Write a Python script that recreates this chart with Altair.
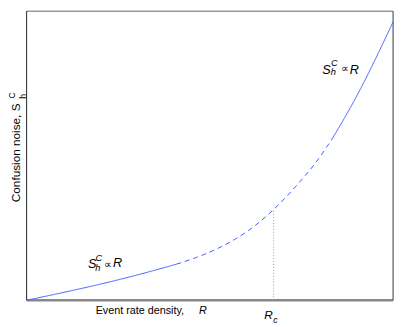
import altair as alt
import pandas as pd

# Curve: event rate density R (normalised) vs confusion noise S_h^C (normalised)
R_vals = [0.0, 0.1, 0.195, 0.3, 0.409, 0.463, 0.516, 0.570, 0.623, 0.674, 0.735, 0.797, 0.837, 0.898, 1.0]
S_vals = [0.0, 0.027, 0.054, 0.087, 0.125, 0.148, 0.176, 0.212, 0.258, 0.314, 0.395, 0.490, 0.565, 0.700, 0.963]
# segment boundaries: solid / dashed / solid
seg_bounds = [0.0, 0.409, 0.837, 1.0]
seg_styles = ["solid", "dashed", "solid"]
R_c = 0.674
S_at_Rc = 0.314

rows = []
for i, (lo, hi) in enumerate(zip(seg_bounds[:-1], seg_bounds[1:])):
    for r, s in zip(R_vals, S_vals):
        if lo <= r <= hi:
            rows.append({"R": r, "S": s, "seg": i, "style": seg_styles[i]})
curve = pd.DataFrame(rows)

xs = alt.Scale(domain=[0, 1], nice=False, zero=False)
ys = alt.Scale(domain=[0, 1], nice=False, zero=False)

def curve_layer(style, dash):
    return alt.Chart(curve[curve["style"] == style]).mark_line(
        color="#3d5cff", strokeWidth=1, interpolate="monotone", strokeDash=dash
    ).encode(
        x=alt.X("R:Q", scale=xs, axis=None),
        y=alt.Y("S:Q", scale=ys, axis=None),
        detail="seg:N",
    )

solid = curve_layer("solid", [1, 0])
dashed = curve_layer("dashed", [5, 4])

rc_df = pd.DataFrame({"R": [R_c], "S0": [0.0], "S1": [S_at_Rc]})
rc_rule = alt.Chart(rc_df).mark_rule(color="#999999", strokeDash=[1, 2], strokeWidth=1).encode(
    x=alt.X("R:Q", scale=xs, axis=None), y=alt.Y("S0:Q", scale=ys, axis=None), y2="S1:Q"
)

# frame
frame_df = pd.DataFrame({
    "x": [0, 0, 0, 1], "x2": [1, 1, 0, 1], "y": [1, 0, 0, 0], "y2": [1, 0, 1, 1],
    "c": ["#999999", "#888888", "#222222", "#333333"], "w": [1.5, 2.5, 1, 1],
})
frame = alt.Chart(frame_df).mark_rule().encode(
    x=alt.X("x:Q", scale=xs, axis=None), x2="x2:Q", y=alt.Y("y:Q", scale=ys, axis=None), y2="y2:Q",
    color=alt.Color("c:N", scale=None), strokeWidth=alt.StrokeWidth("w:Q", scale=None),
)

# text annotations (data coordinates)
normal_text = pd.DataFrame({
    "t": ["\u221d", "\u221d", "Event rate density,"],
    "x": [0.221, 0.870, 0.309],
    "y": [0.121, 0.799, -0.037],
    "size": [11, 11, 11],
})
rot_text = pd.DataFrame({
    "t": ["Confusion noise, S", "h", "C"],
    "x": [-0.029, -0.010, -0.039],
    "y": [0.510, 0.706, 0.708],
    "size": [12, 9, 8.5],
})
italic_text = pd.DataFrame({
    "t": ["S", "C", "h", "R", "S", "C", "h", "R", "R", "c", "R"],
    "x": [0.179, 0.197, 0.194, 0.248, 0.818, 0.840, 0.837, 0.894, 0.660, 0.679, 0.481],
    "y": [0.125, 0.146, 0.112, 0.127, 0.798, 0.820, 0.788, 0.798, -0.051, -0.068, -0.037],
    "size": [13, 9.5, 9.5, 13, 13, 9.5, 9.5, 13, 12, 9, 11],
})

def text_layer(df, style, angle=0):
    return alt.Chart(df).mark_text(
        font="Liberation Sans", fontStyle=style, color="#000000", align="center",
        baseline="middle", angle=angle,
    ).encode(
        x=alt.X("x:Q", scale=xs, axis=None), y=alt.Y("y:Q", scale=ys, axis=None), text="t:N",
        size=alt.Size("size:Q", scale=None),
    )

chart = alt.layer(
    frame, rc_rule, solid, dashed,
    text_layer(normal_text, "normal"), text_layer(rot_text, "normal", 270),
    text_layer(italic_text, "italic"),
).properties(
    width=374, height=295,
    autosize=alt.AutoSizeParams(type="none"),
    padding={"left": 19, "top": 0, "right": 4, "bottom": 24},
    background="white",
).configure_view(stroke=None)

chart.save("out.html", embed_options={"renderer": "svg", "actions": False})
